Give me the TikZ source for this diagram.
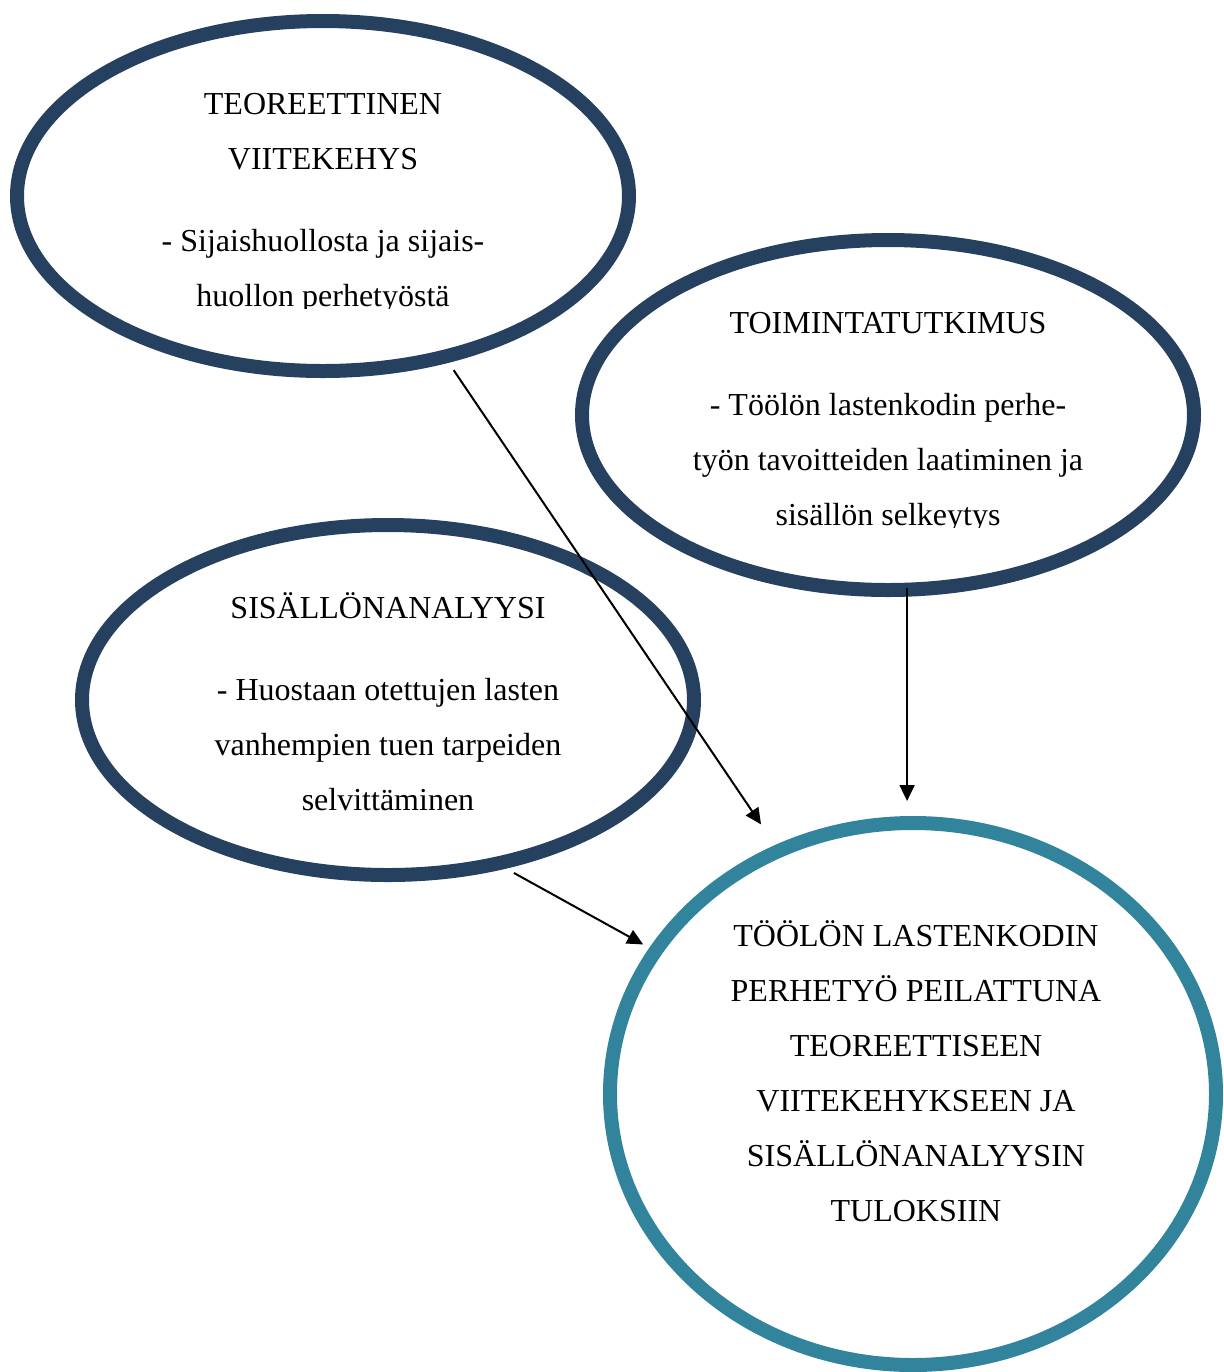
\documentclass[tikz,border=0pt]{standalone}
\usepackage{fontspec}
\setmainfont{Liberation Serif}
\usetikzlibrary{shapes.geometric}
\usetikzlibrary{arrows.meta}
\definecolor{tummansininen}{RGB}{38,64,96}
\definecolor{turkoosi}{RGB}{49,132,155}

\begin{document}
\begin{tikzpicture}[x=0.5pt,y=-0.5pt,
	pallo/.style={draw=tummansininen,line width=7pt,ellipse,minimum width=306pt,minimum height=175pt},
	teksti/.style={align=center,anchor=base,inner sep=0pt,font=\fontsize{16}{27.5}\selectfont},
	nuoli/.style={-{Triangle[length=8pt,width=7.5pt]},line width=1pt}]
\useasboundingbox (0,0) rectangle (1224,1372);
\node [pallo] (teoria) at (323,196) {};
\node [pallo] (toiminta) at (888,415) {};
\node [pallo] (analyysi) at (388,700) {};
\node [pallo,draw=turkoosi,minimum width=303pt,minimum height=271pt] (tulos) at (913,1094) {};
% tekstit (sijoitettu viimeisen rivin mukaan)
\begin{scope}
\clip (0,0) rectangle (1224,308);
\node [teksti] (teoriateksti) at (323,306) {TEOREETTINEN\\VIITEKEHYS\\[13.5pt]- Sijaishuollosta ja sijais-\\huollon perhetyöstä};
\end{scope}
\begin{scope}
\clip (0,0) rectangle (1224,527);
\node [teksti] (toimintateksti) at (888,525) {TOIMINTATUTKIMUS\\[13.5pt]- Töölön lastenkodin perhe-\\työn tavoitteiden laatiminen ja\\sisällön selkeytys};
\end{scope}
\node [teksti] (analyysiteksti) at (388,810) {SISÄLLÖNANALYYSI\\[13.5pt]- Huostaan otettujen lasten\\vanhempien tuen tarpeiden\\selvittäminen};
\node [teksti] (tulosteksti) at (916,1221) {TÖÖLÖN LASTENKODIN\\PERHETYÖ PEILATTUNA\\TEOREETTISEEN\\VIITEKEHYKSEEN JA\\SISÄLLÖNANALYYSIN\\TULOKSIIN};
% nuolet
\draw [nuoli,shorten <=4.5pt,shorten >=12.5pt] (teoria.-53) -- (tulos.119);
\draw [nuoli,shorten <=-4.5pt,shorten >=7.5pt] (toiminta.-84) -- (toiminta.-84 |- tulos.north);
\draw [nuoli,shorten <=4.5pt,shorten >=3.5pt] (analyysi.-55) -- (tulos.151);
\end{tikzpicture}
\end{document}
